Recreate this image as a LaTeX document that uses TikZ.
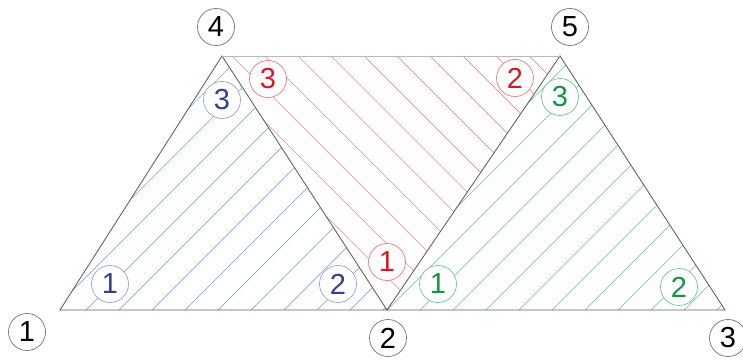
\documentclass[tikz,border=0pt]{standalone}
\usepackage{fontspec}
\setmainfont{Liberation Sans}
\usepackage{xcolor}
\definecolor{bluetext}{RGB}{52,62,150}
\definecolor{bluering}{RGB}{150,160,220}
\definecolor{bluehatch}{RGB}{125,172,215}
\definecolor{redtext}{RGB}{215,25,35}
\definecolor{redring}{RGB}{235,120,120}
\definecolor{redhatch}{RGB}{240,140,140}
\definecolor{greentext}{RGB}{20,150,60}
\definecolor{greenring}{RGB}{110,200,140}
\definecolor{greenhatch}{RGB}{125,205,160}
\usetikzlibrary{calc}

\tikzset{
    numring/.style={circle, draw, fill=white, minimum size=0.74cm, inner sep=0pt, font=\fontsize{16.5}{16.5}\selectfont},
    vertexnum/.style={numring, draw=gray!90!black, text=black},
    bluenum/.style={numring, draw=bluering, text=bluetext},
    rednum/.style={numring, draw=redring, text=redtext},
    greennum/.style={numring, draw=greenring, text=greentext},
    hatchline/.style={line width=0.4pt},
    edge/.style={draw=gray!75!black, line width=0.5pt}
}

\begin{document}
\begin{tikzpicture}[>=stealth]
    \useasboundingbox (0,0) rectangle (14.86,7.18);

    % Mesh vertices
    \coordinate (v1) at (1.20,0.98);
    \coordinate (v2) at (7.74,0.98);
    \coordinate (v3) at (14.50,0.98);
    \coordinate (v4) at (4.44,6.06);
    \coordinate (v5) at (11.20,6.06);

    % Hatching of element 1
    \begin{scope}
        \clip (v1) -- (v4) -- (v2) -- cycle;
        \foreach \k in {-10,...,12} {
            \draw[hatchline, bluehatch] (0.74+0.66*\k,0) -- ++(7,7);
        }
    \end{scope}

    % Hatching of element 2
    \begin{scope}
        \clip (v4) -- (v5) -- (v2) -- cycle;
        \foreach \k in {-5,...,10} {
            \draw[hatchline, redhatch] (11.36+0.66*\k,0) -- ++(-7,7);
        }
    \end{scope}

    % Hatching of element 3
    \begin{scope}
        \clip (v2) -- (v5) -- (v3) -- cycle;
        \foreach \k in {-10,...,12} {
            \draw[hatchline, greenhatch] (7.42+0.66*\k,0) -- ++(7,7);
        }
    \end{scope}

    % Element edges
    \draw[edge] (v1) -- (v4) -- (v2) -- cycle;
    \draw[edge] (v2) -- (v5) -- (v3) -- cycle;
    \draw[edge, draw=gray!55] (v4) -- (v5);

    % Global node numbers
    \node[vertexnum] (n1) at (0.54,0.54) {1};
    \node[vertexnum] (n2) at (7.76,0.42) {2};
    \node[vertexnum] (n3) at (14.56,0.42) {3};
    \node[vertexnum] (n4) at (4.32,6.64) {4};
    \node[vertexnum] (n5) at (11.40,6.64) {5};

    % Local numbers, element 1
    \node[bluenum] (b1) at (2.20,1.50) {1};
    \node[bluenum] (b2) at (6.76,1.50) {2};
    \node[bluenum] (b3) at (4.44,5.18) {3};

    % Local numbers, element 2
    \node[rednum] (r1) at (7.74,1.94) {1};
    \node[rednum] (r2) at (10.30,5.62) {2};
    \node[rednum] (r3) at (5.36,5.60) {3};

    % Local numbers, element 3
    \node[greennum] (g1) at (8.76,1.50) {1};
    \node[greennum] (g2) at (13.58,1.44) {2};
    \node[greennum] (g3) at (11.20,5.24) {3};
\end{tikzpicture}
\end{document}
